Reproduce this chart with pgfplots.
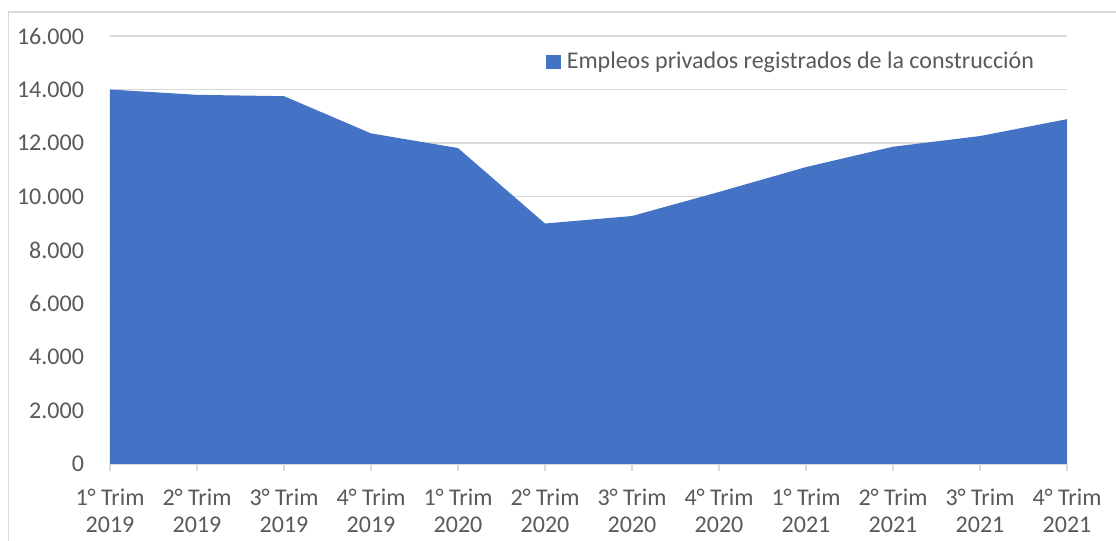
\documentclass[border=0pt]{standalone}
\usepackage{fontspec}
\setmainfont{Carlito}
\usepackage{pgfplots}
\pgfplotsset{compat=1.18}

\definecolor{areablue}{HTML}{4472C4}
\definecolor{txtgray}{HTML}{595959}
\definecolor{gridgray}{HTML}{D9D9D9}

\begin{document}
\begin{tikzpicture}[x=1pt,y=1pt]
    % picture frame: 1px = 0.5pt
    \useasboundingbox (-55,-38.5) rectangle (503,232);
    \draw[gridgray, line width=0.75pt] (-50.75,-38.5) -- (-50.75,226) -- (503,226);

    \begin{axis}[
        at={(0,0)}, anchor=south west,
        scale only axis,
        width=478.5pt, height=214pt,
        xmin=0, xmax=11,
        ymin=0, ymax=16000,
        axis x line*=bottom,
        axis y line*=left,
        x axis line style={gridgray, line width=0.75pt},
        y axis line style={draw=none},
        xtick={0,...,11},
        xticklabels={
            1° Trim\\2019, 2° Trim\\2019, 3° Trim\\2019, 4° Trim\\2019,
            1° Trim\\2020, 2° Trim\\2020, 3° Trim\\2020, 4° Trim\\2020,
            1° Trim\\2021, 2° Trim\\2021, 3° Trim\\2021, 4° Trim\\2021},
        xticklabel style={align=center, text=txtgray, yshift=-5.5pt},
        ytick={0,2000,...,16000},
        scaled y ticks=false,
        yticklabel style={text=txtgray, xshift=-6pt},
        ymajorgrids,
        grid style={gridgray, line width=0.75pt},
        tick align=outside,
        major tick length=3.5pt,
        xtick style={gridgray, line width=0.75pt},
        ytick style={draw=none},
        /pgf/number format/.cd, 1000 sep={.}, assume math mode=true,
        /pgfplots/.cd,
        tick label style={font=\fontsize{12}{13.5}\selectfont},
        legend style={
            at={(rel axis cs:0.4556,0.939)}, anchor=west,
            draw=none, fill=none, inner sep=0pt,
            font=\fontsize{12}{13.5}\selectfont, text=txtgray,
            legend cell align=left},
        legend image code/.code={
            \fill[#1] (0pt,-3.6pt) rectangle (7.2pt,3.6pt);},
    ]
    \addplot[fill=areablue, draw=none] coordinates {
        (0, 14000) (1, 13800) (2, 13750) (3, 12360)
        (4, 11810) (5, 8990) (6, 9270) (7, 10170)
        (8, 11100) (9, 11860) (10, 12260) (11, 12890)
    } \closedcycle;
    \addlegendentry{\hspace{1pt}Empleos privados registrados de la construcción}
    \end{axis}
\end{tikzpicture}
\end{document}
